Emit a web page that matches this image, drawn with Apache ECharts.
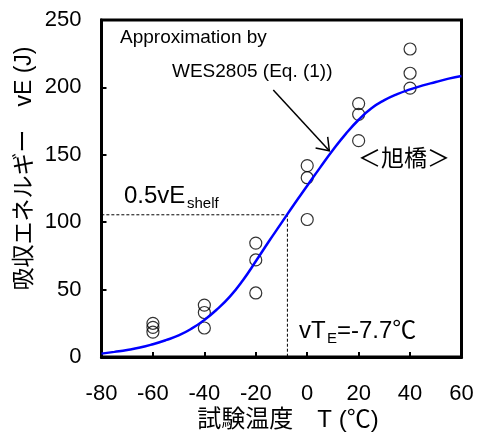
<!DOCTYPE html>
<html>
<head>
<meta charset="utf-8">
<script src="https://cdn.jsdelivr.net/npm/echarts@6/dist/echarts.min.js"></script>
<style>html,body{margin:0;padding:0;background:#fff}#c{width:478px;height:432px}</style>
</head>
<body>
<div id="c"></div>
<script>
// ---- data ----
const xTicks = [-80, -60, -40, -20, 0, 20, 40, 60];
const yTicks = [0, 50, 100, 150, 200, 250];
const testTemps = [-60, -40, -20, 0, 20, 40];
const energies = [
  [25, 22, 18.5],
  [38.5, 33, 21.5],
  [84.5, 72, 47.5],
  [142, 133, 102],
  [188, 180, 160.5],
  [228.5, 210.5, 199.5]
];
const curveT = [-80, -75, -70, -65, -60, -55, -50, -45, -40, -35, -30, -25, -20, -15, -10, -5, 0, 5, 10, 15, 20, 25, 30, 35, 40, 45, 50, 55, 60];
const curveE = [2.5, 3.8, 5.2, 7, 9.5, 12.5, 16, 21, 27.5, 35.5, 45, 57, 71, 85.5, 99.5, 113.5, 127, 140.5, 153.5, 165.5, 176, 184.5, 190.5, 195, 198.5, 201.5, 204, 206.5, 208.5];
const vTE = -7.7;
const halfShelf = 105.5;
const arrowFrom = [-13.2, 198];
const arrowTo = [8.6, 153];

const LAT = '"Liberation Sans", Arial, "Noto Sans CJK JP", sans-serif';
const CJK = '"Liberation Sans", "Noto Sans CJK JP", sans-serif';

const scatterData = [];
testTemps.forEach((t, i) => energies[i].forEach(v => scatterData.push([t, v])));
const curveData = curveT.map((t, i) => [t, curveE[i]]);

const chart = echarts.init(document.getElementById('c'));
const axisCommon = {
  type: 'value',
  axisLine: { show: true, onZero: false, lineStyle: { color: '#000', width: 3 } },
  axisTick: { show: true, inside: true, length: 5, lineStyle: { color: '#000', width: 2 } },
  splitLine: { show: false },
  axisLabel: { color: '#000', fontSize: 22, fontFamily: LAT }
};
chart.setOption({
  animation: false,
  backgroundColor: '#fff',
  grid: { left: 101.5, right: 16.5, top: 20, bottom: 75, show: true, borderColor: '#000', borderWidth: 3 },
  xAxis: Object.assign({}, axisCommon, {
    min: xTicks[0], max: xTicks[xTicks.length - 1], interval: 20,
    axisLabel: Object.assign({}, axisCommon.axisLabel, { margin: 26 })
  }),
  yAxis: Object.assign({}, axisCommon, {
    min: yTicks[0], max: yTicks[yTicks.length - 1], interval: 50,
    axisLabel: Object.assign({}, axisCommon.axisLabel, { margin: 20 })
  }),
  series: [
    {
      type: 'line', data: [[xTicks[0] - 2, halfShelf], [vTE, halfShelf], [vTE, 0]],
      showSymbol: false, clip: false, silent: true,
      lineStyle: { color: '#000', width: 1, type: [3, 2] }, z: 1
    },
    {
      type: 'scatter', data: scatterData, symbol: 'circle', symbolSize: 12,
      itemStyle: { color: 'rgba(0,0,0,0)', borderColor: '#000', borderWidth: 1.2 }, z: 2
    },
    {
      type: 'line', data: curveData, smooth: 0.5, showSymbol: false,
      lineStyle: { color: '#0000ff', width: 2.5 }, z: 3
    }
  ]
});

const p0 = chart.convertToPixel({ gridIndex: 0 }, arrowFrom);
const p1 = chart.convertToPixel({ gridIndex: 0 }, arrowTo);
const ang = Math.atan2(p0[1] - p1[1], p0[0] - p1[0]);
const hl = 14, ha = 36 * Math.PI / 180;
const h1 = [p1[0] + hl * Math.cos(ang + ha), p1[1] + hl * Math.sin(ang + ha)];
const h2 = [p1[0] + hl * Math.cos(ang - ha), p1[1] + hl * Math.sin(ang - ha)];

function txt(x, y, text, size, font, align) {
  return { type: 'text', x: x, y: y, z: 10,
    style: { text: text, fill: '#000', font: size + 'px ' + font, align: align || 'left', verticalAlign: 'middle' } };
}
chart.setOption({
  graphic: [
    txt(120, 38, 'Approximation by', 19, LAT),
    txt(172, 71.5, 'WES2805 (Eq. (1))', 19, LAT),
    { type: 'line', z: 10, shape: { x1: p0[0], y1: p0[1], x2: p1[0], y2: p1[1] }, style: { stroke: '#000', lineWidth: 1.5 } },
    { type: 'polyline', z: 10, shape: { points: [h1, p1, h2] }, style: { stroke: '#000', lineWidth: 1.5, fill: null } },
    txt(358, 157, '＜旭橋＞', 23, '"Noto Sans CJK JP", sans-serif'),
    txt(124, 196, '0.5vE', 24, LAT),
    txt(187, 204, 'shelf', 15, LAT),
    txt(299, 331.5, 'vT', 24, LAT),
    txt(327, 339, 'E', 15, LAT),
    txt(337, 331.5, '=-7.7℃', 24, CJK),
    txt(288, 420, '試験温度　T (℃)', 24, CJK, 'center'),
    { type: 'text', x: 25, y: 168.5, rotation: Math.PI / 2, z: 10,
      style: { text: '吸収エネルギー　vE (J)', fill: '#000', font: '23px ' + CJK, align: 'center', verticalAlign: 'middle' } }
  ]
});
</script>
</body>
</html>
